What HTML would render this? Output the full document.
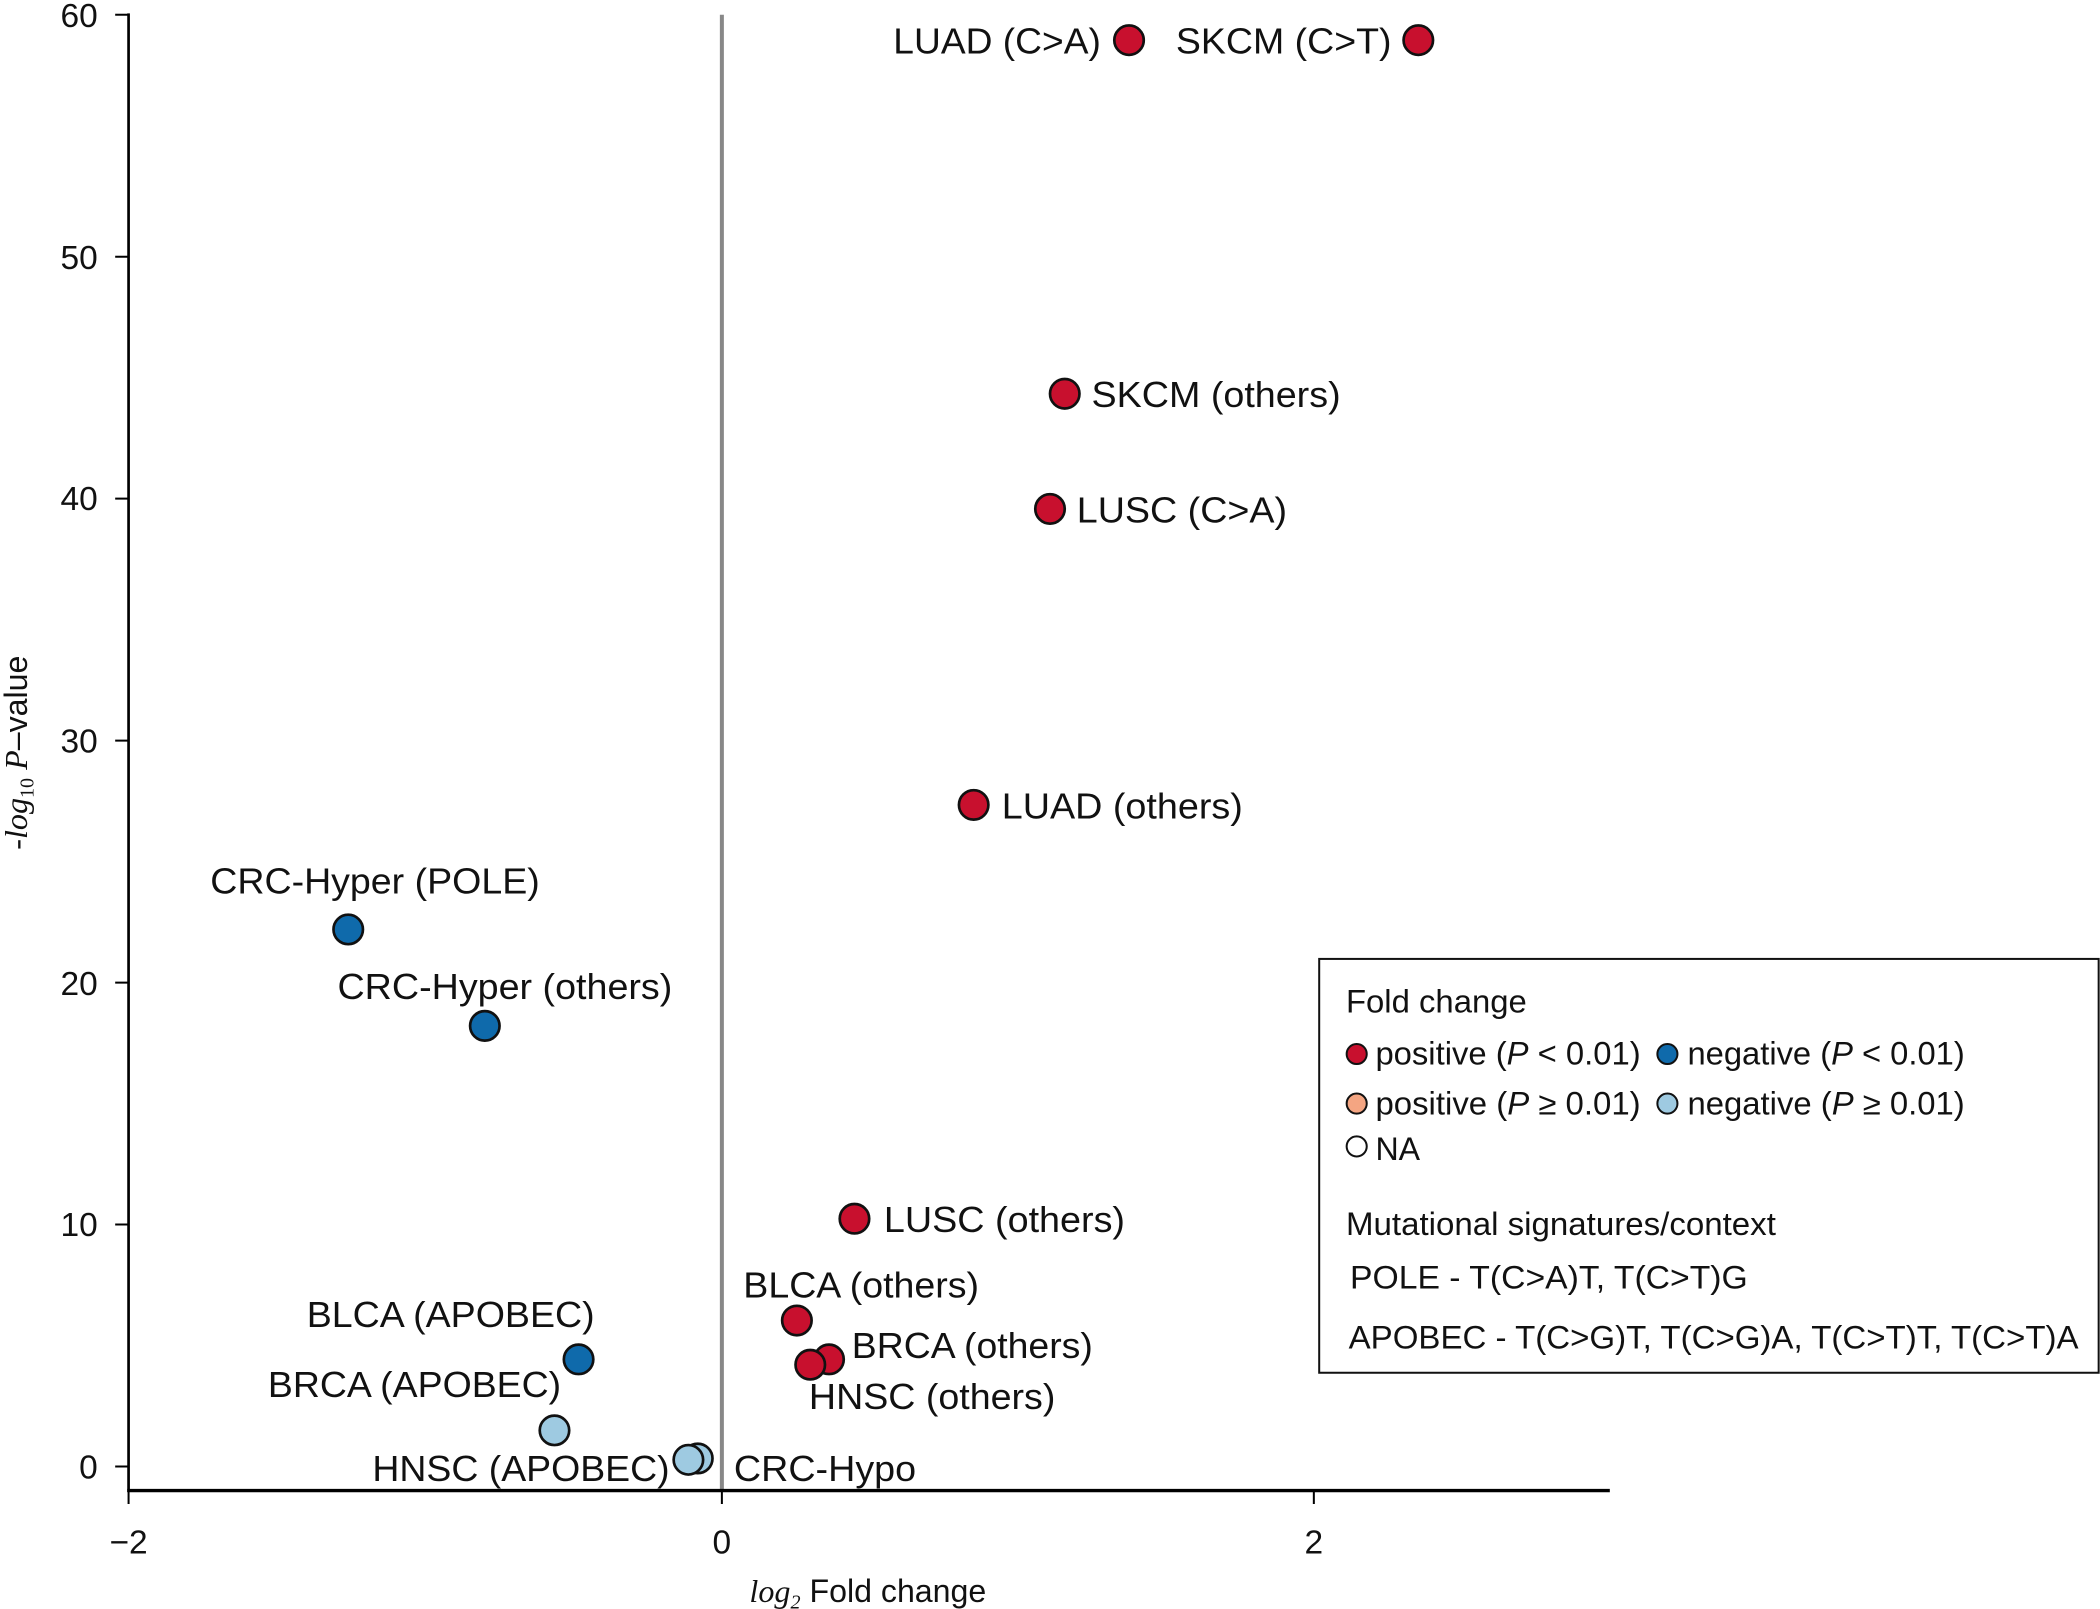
<!DOCTYPE html>
<html><head><meta charset="utf-8"><style>
html,body{margin:0;padding:0;background:#fff;}
svg{display:block;}
text{font-family:"Liberation Sans",Arial,sans-serif;fill:#111;}
</style></head><body>
<svg width="2100" height="1609" viewBox="0 0 1568 1201.4" preserveAspectRatio="none" xmlns="http://www.w3.org/2000/svg">
<line x1="539" y1="11" x2="539" y2="1113" stroke="#888" stroke-width="3"/>
<line x1="96" y1="10" x2="96" y2="1114" stroke="#000" stroke-width="2"/>
<line x1="95" y1="1113" x2="1202" y2="1113" stroke="#000" stroke-width="2.5"/>
<g stroke="#000" stroke-width="1.5">
<line x1="86" y1="11" x2="96" y2="11"/><line x1="86" y1="191.7" x2="96" y2="191.7"/>
<line x1="86" y1="372.3" x2="96" y2="372.3"/><line x1="86" y1="553" x2="96" y2="553"/>
<line x1="86" y1="733.7" x2="96" y2="733.7"/><line x1="86" y1="914.3" x2="96" y2="914.3"/>
<line x1="86" y1="1095" x2="96" y2="1095"/>
<line x1="96" y1="1113" x2="96" y2="1123"/><line x1="539" y1="1113" x2="539" y2="1123"/><line x1="981" y1="1113" x2="981" y2="1123"/>
</g>
<g font-size="25" text-anchor="end">
<text x="73" y="20">60</text><text x="73" y="201">50</text><text x="73" y="381">40</text>
<text x="73" y="562">30</text><text x="73" y="743">20</text><text x="73" y="923">10</text><text x="73" y="1104">0</text>
</g>
<g font-size="25" text-anchor="middle">
<text x="96" y="1160">−2</text><text x="539" y="1160">0</text><text x="981" y="1160">2</text>
</g>
<text x="648" y="1196" font-size="24" text-anchor="middle"><tspan font-family="Liberation Serif,serif" font-style="italic">log</tspan><tspan font-family="Liberation Serif,serif" font-style="italic" font-size="15" dy="5">2</tspan><tspan dy="-5"> Fold change</tspan></text>
<text transform="translate(20,562) rotate(-90)" font-size="24" text-anchor="middle"><tspan font-family="Liberation Serif,serif" font-style="italic">-log</tspan><tspan font-family="Liberation Serif,serif" font-size="15" dy="5">10</tspan><tspan dy="-5" font-family="Liberation Serif,serif" font-style="italic"> P</tspan><tspan>–value</tspan></text>

<g stroke="#111" stroke-width="2">
<circle cx="843" cy="30" r="11" fill="#c8102e"/>
<circle cx="1059" cy="30" r="11" fill="#c8102e"/>
<circle cx="795" cy="294" r="11" fill="#c8102e"/>
<circle cx="784" cy="380" r="11" fill="#c8102e"/>
<circle cx="727" cy="601" r="11" fill="#c8102e"/>
<circle cx="638" cy="910" r="11" fill="#c8102e"/>
<circle cx="595" cy="986" r="11" fill="#c8102e"/>
<circle cx="619" cy="1015" r="11" fill="#c8102e"/>
<circle cx="605" cy="1019" r="11" fill="#c8102e"/>
<circle cx="260" cy="694" r="11" fill="#0f6aab"/>
<circle cx="362" cy="766" r="11" fill="#0f6aab"/>
<circle cx="432" cy="1015" r="11" fill="#0f6aab"/>
<circle cx="414" cy="1068" r="11" fill="#9ecae1"/>
<circle cx="521" cy="1089" r="11" fill="#9ecae1"/>
<circle cx="514" cy="1090" r="11" fill="#9ecae1"/>
</g>
<g font-size="27">
<text x="822" y="40" text-anchor="end" textLength="155" lengthAdjust="spacingAndGlyphs">LUAD (C&gt;A)</text>
<text x="878" y="40" textLength="161" lengthAdjust="spacingAndGlyphs">SKCM (C&gt;T)</text>
<text x="815" y="304" textLength="186" lengthAdjust="spacingAndGlyphs">SKCM (others)</text>
<text x="804" y="390" textLength="157" lengthAdjust="spacingAndGlyphs">LUSC (C&gt;A)</text>
<text x="748" y="611" textLength="180" lengthAdjust="spacingAndGlyphs">LUAD (others)</text>
<text x="157" y="667" textLength="246" lengthAdjust="spacingAndGlyphs">CRC-Hyper (POLE)</text>
<text x="252" y="746" textLength="250" lengthAdjust="spacingAndGlyphs">CRC-Hyper (others)</text>
<text x="660" y="920" textLength="180" lengthAdjust="spacingAndGlyphs">LUSC (others)</text>
<text x="555" y="969" textLength="176" lengthAdjust="spacingAndGlyphs">BLCA (others)</text>
<text x="636" y="1014" textLength="180" lengthAdjust="spacingAndGlyphs">BRCA (others)</text>
<text x="604" y="1052" textLength="184" lengthAdjust="spacingAndGlyphs">HNSC (others)</text>
<text x="229" y="991" textLength="215" lengthAdjust="spacingAndGlyphs">BLCA (APOBEC)</text>
<text x="200" y="1043" textLength="219" lengthAdjust="spacingAndGlyphs">BRCA (APOBEC)</text>
<text x="278" y="1106" textLength="222" lengthAdjust="spacingAndGlyphs">HNSC (APOBEC)</text>
<text x="548" y="1106" textLength="136" lengthAdjust="spacingAndGlyphs">CRC-Hypo</text>
</g>
<rect x="985" y="716" width="582" height="309" fill="#fff" stroke="#111" stroke-width="1.5"/>
<g font-size="24">
<text x="1005" y="756" textLength="135" lengthAdjust="spacingAndGlyphs">Fold change</text>
<circle cx="1013" cy="787" r="7.5" fill="#c8102e" stroke="#111" stroke-width="1.5"/>
<text x="1027" y="795" textLength="198" lengthAdjust="spacingAndGlyphs">positive (<tspan font-style="italic">P</tspan> &lt; 0.01)</text>
<circle cx="1245" cy="787" r="7.5" fill="#0f6aab" stroke="#111" stroke-width="1.5"/>
<text x="1260" y="795" textLength="207" lengthAdjust="spacingAndGlyphs">negative (<tspan font-style="italic">P</tspan> &lt; 0.01)</text>
<circle cx="1013" cy="824" r="7.5" fill="#f4a582" stroke="#111" stroke-width="1.5"/>
<text x="1027" y="832" textLength="198" lengthAdjust="spacingAndGlyphs">positive (<tspan font-style="italic">P</tspan> ≥ 0.01)</text>
<circle cx="1245" cy="824" r="7.5" fill="#9ecae1" stroke="#111" stroke-width="1.5"/>
<text x="1260" y="832" textLength="207" lengthAdjust="spacingAndGlyphs">negative (<tspan font-style="italic">P</tspan> ≥ 0.01)</text>
<circle cx="1013" cy="856" r="7.5" fill="#fff" stroke="#111" stroke-width="1.5"/>
<text x="1027" y="866">NA</text>
<text x="1005" y="922" textLength="321" lengthAdjust="spacingAndGlyphs">Mutational signatures/context</text>
<text x="1008" y="962" textLength="297" lengthAdjust="spacingAndGlyphs">POLE  - T(C&gt;A)T, T(C&gt;T)G</text>
<text x="1007" y="1007" textLength="545" lengthAdjust="spacingAndGlyphs">APOBEC - T(C&gt;G)T, T(C&gt;G)A, T(C&gt;T)T, T(C&gt;T)A</text>
</g>
</svg>
</body></html>
